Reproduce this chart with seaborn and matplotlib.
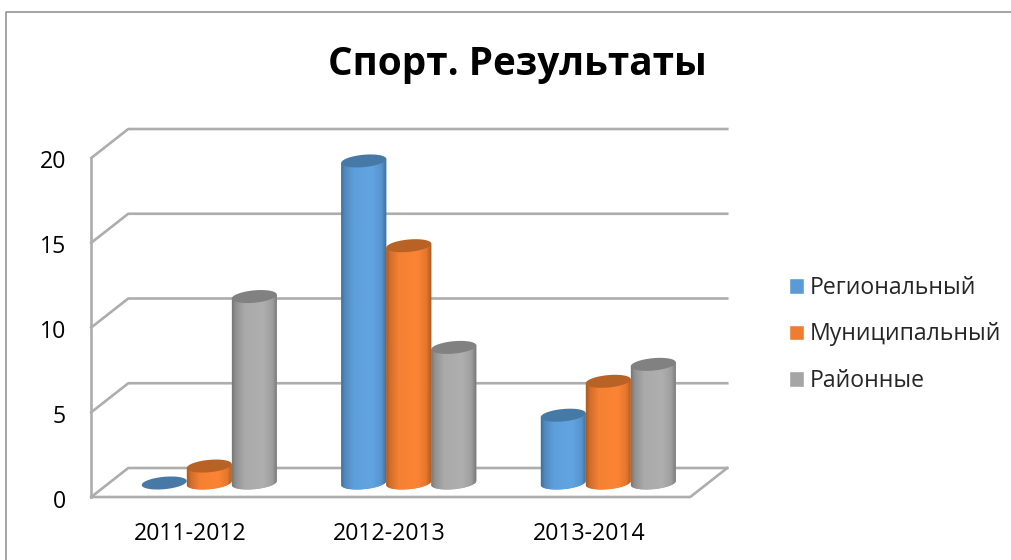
import numpy as np
import pandas as pd
import matplotlib
matplotlib.use('Agg')
import matplotlib.pyplot as plt
import seaborn as sns
from matplotlib.colors import LinearSegmentedColormap, to_rgb
from matplotlib.lines import Line2D
from matplotlib.patches import Polygon
from matplotlib.transforms import ScaledTranslation

years = ['2011-2012', '2012-2013', '2013-2014']
regional = [0, 19, 4]
municipal = [1, 14, 6]
district = [11, 8, 7]
series_names = ['Региональный', 'Муниципальный', 'Районные']
series_colors = ['#5B9BD5', '#ED7D31', '#A5A5A5']
y_ticks = [0, 5, 10, 15, 20]

W, H = 1012, 560
GRID = '#ADADAD'

sns.set_theme(style='white')
plt.rcParams['font.family'] = ['Open Sans', 'DejaVu Sans']

df = pd.DataFrame({
    'year': years * 3,
    'value': regional + municipal + district,
    'series': np.repeat(series_names, 3),
})

fig = plt.figure(figsize=(W / 100, H / 100), dpi=100, facecolor='white')
# plot area in pixels: x=-0.5 at 109.5, x=2.5 at 708, y=0 at 483, y=20 at 144
ax = fig.add_axes([109.5 / W, 1 - 483 / H, (708 - 109.5) / W, (483 - 144) / H])
ax.patch.set_alpha(0)

sns.barplot(data=df, x='year', y='value', hue='series', hue_order=series_names,
            palette=series_colors, width=0.677, gap=0, saturation=1, ax=ax)
ax.set_xlabel('')
ax.set_ylabel('')
sns.despine(ax=ax, left=True, bottom=True)

# perspective walls, offsets in data units
unit_x = (708 - 109.5) / 3
unit_y = (483 - 144) / 20
back_dy, front_dy = 15 / unit_y, -14 / unit_y
left_back, left_front = (128 - 209) / unit_x, (91 - 209) / unit_x
right_back, right_front = (727 - 209) / unit_x, (690 - 209) / unit_x
line_kw = dict(color=GRID, lw=1.9, clip_on=False, zorder=0.5, solid_capstyle='projecting')
for v in y_ticks:
    ax.plot([left_front, left_back, right_back], [v + front_dy, v + back_dy, v + back_dy], **line_kw)
ax.plot([left_front, left_front], [y_ticks[0] + front_dy, y_ticks[-1] + front_dy], **line_kw)
ax.plot([left_front, right_front, right_back],
        [y_ticks[0] + front_dy, y_ticks[0] + front_dy, y_ticks[0] + back_dy], **line_kw)

# turn the flat bars into cylinders
cap_b = 6.2 / unit_y
cap_tilt = 2 / unit_y
t = np.linspace(0, 2 * np.pi, 80)
for container, color in zip(ax.containers, series_colors):
    base = np.array(to_rgb(color))
    shades = [0.72, 0.88, 1.03, 1.06, 0.96, 0.70]
    stops = [0, 0.08, 0.28, 0.68, 0.88, 1]
    cmap = LinearSegmentedColormap.from_list(
        'cyl', [(s, tuple(np.clip(base * k, 0, 1))) for s, k in zip(stops, shades)])
    cap_color = tuple(base * 0.78)
    for bar in container:
        x0, w, h = bar.get_x(), bar.get_width(), bar.get_height()
        bar.set_visible(False)
        xc, a = x0 + w / 2, w / 2
        ex = xc + a * np.cos(t)
        lower = t[t >= np.pi]
        bx = xc + a * np.cos(lower)
        by = cap_b * np.sin(lower) + cap_tilt * np.cos(lower)
        if h > 0:
            outline = np.column_stack([
                np.r_[x0, bx, x0 + w],
                np.r_[h - cap_tilt, by, h + cap_tilt],
            ])
            body = Polygon(outline, closed=True, fc=color, ec='none', zorder=2, clip_on=False)
            ax.add_patch(body)
            img = ax.imshow(np.linspace(0, 1, 128)[None, :], cmap=cmap, aspect='auto',
                            extent=(x0, x0 + w, -2 * cap_b, h + 2 * cap_b), zorder=2.1)
            img.set_clip_box(fig.bbox)
            img.set_clip_path(body)
        ey = h + cap_b * np.sin(t) + cap_tilt * np.cos(t)
        ax.add_patch(Polygon(np.column_stack([ex, ey]), closed=True, fc=cap_color, ec='none',
                             zorder=2.2, clip_on=False))
ax.set_xlim(-0.5, 2.5)
ax.set_ylim(0, 20)

# tick labels sit on the front plane of the chart
ax.set_yticks(y_ticks)
ax.set_xticks(range(len(years)))
ax.set_xticklabels(years)
ax.tick_params(axis='both', length=0, labelsize=16.7, labelcolor='black', pad=0)
for lab in ax.get_yticklabels():
    lab.set_transform(lab.get_transform() + ScaledTranslation(-0.435, -0.155, fig.dpi_scale_trans))
for lab in ax.get_xticklabels():
    lab.set_transform(lab.get_transform() + ScaledTranslation(-0.19, -0.39, fig.dpi_scale_trans))

sns.move_legend(ax, loc='center left', bbox_to_anchor=(789 / W, 1 - 334.5 / H),
                bbox_transform=fig.transFigure, title=None, frameon=False, fontsize=16.6,
                handlelength=0.65, handleheight=0.65, handletextpad=0.27, labelspacing=0.98,
                borderpad=0, borderaxespad=0)

fig.text(517 / W, 1 - 65 / H, 'Спорт. Результаты', ha='center', va='center',
         fontsize=27.8, fontweight='bold', color='black')

# outer border of the pasted chart, open on the right and at the bottom
fig.add_artist(Line2D([6.5 / W, 6.5 / W, 1], [0, 1 - 12 / H, 1 - 12 / H],
                      transform=fig.transFigure, color='#8C8C8C', lw=1.1))

fig.savefig('out.png', dpi=100)
